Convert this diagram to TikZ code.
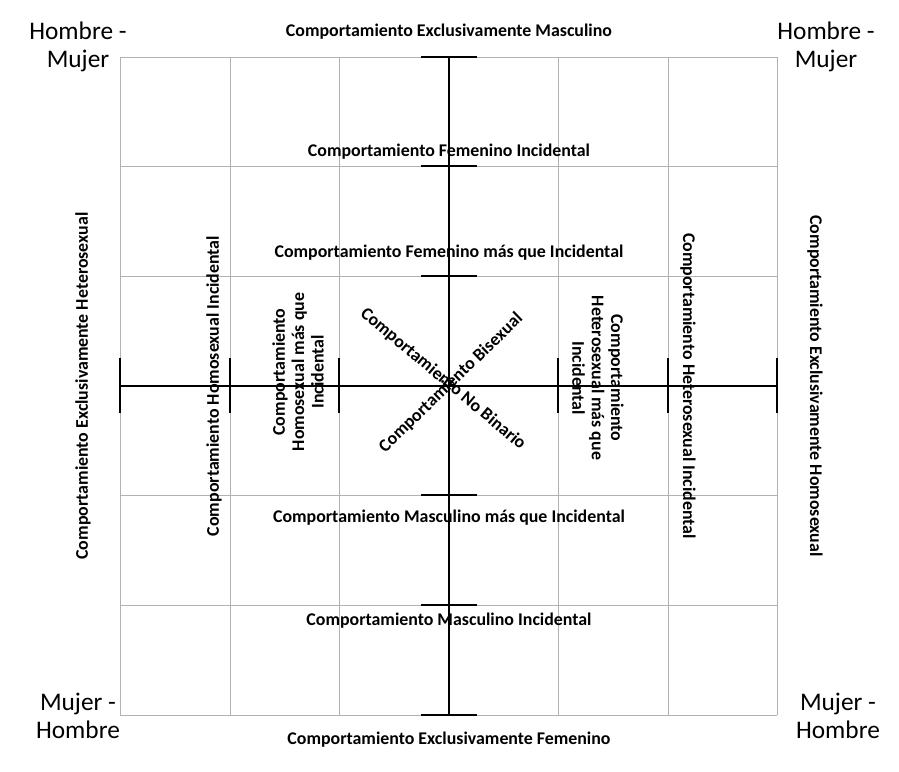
\documentclass[tikz,border=0pt]{standalone}
\usepackage{fontspec}
\setmainfont{Carlito}
\begin{document}
\begin{tikzpicture}[x=0.75pt,y=-0.75pt,
  lab/.style={font=\fontsize{13.4}{14.5}\selectfont\bfseries,inner sep=0pt,align=center},
  corner/.style={font=\fontsize{19}{21.5}\selectfont,inner sep=0pt,align=center},
  grid/.style={draw=gray!60,line width=0.4pt},
  axis/.style={draw=black,line width=1.4pt}]
\useasboundingbox (0,0) rectangle (899,771);
\foreach \x in {120,230,339,449,558,668,777} \draw[grid] (\x,57) -- (\x,715);
\foreach \y in {57,166,276,386,495,605,715} \draw[grid] (120,\y) -- (777,\y);
\coordinate (L) at (120,386); \coordinate (R) at (777,386);
\coordinate (T) at (449,57); \coordinate (B) at (449,715);
\draw[axis] (L) -- (R);
\draw[axis] (T) -- (B);
\foreach \x in {120,230,339,558,668,777} \draw[axis] (\x,358) -- (\x,413);
\foreach \y in {57,166,276,495,605,715} \draw[axis] (421,\y) -- (477,\y);
\node[corner] (c1) at (78,47) {Hombre -\\Mujer};
\node[corner] (c2) at (826,47) {Hombre -\\Mujer};
\node[corner] (c3) at (78,716) {Mujer -\\Hombre};
\node[corner] (c4) at (838,716) {Mujer -\\Hombre};
\node[lab] (t1) at (449,32) {Comportamiento Exclusivamente Masculino};
\node[lab] (t2) at (449,152) {Comportamiento Femenino Incidental};
\node[lab] (t3) at (449,253) {Comportamiento Femenino más que Incidental};
\node[lab] (t4) at (449,518) {Comportamiento Masculino más que Incidental};
\node[lab] (t5) at (449,621) {Comportamiento Masculino Incidental};
\node[lab] (t6) at (449,740) {Comportamiento Exclusivamente Femenino};
\node[lab,rotate=90] (v1) at (83,386) {Comportamiento Exclusivamente Heterosexual};
\node[lab,rotate=-90] (v2) at (815,386) {Comportamiento Exclusivamente Homosexual};
\node[lab,rotate=90] (v3) at (214,386) {Comportamiento Homosexual Incidental};
\node[lab,rotate=-90] (v4) at (688,386) {Comportamiento Heterosexual Incidental};
\node[lab,rotate=90] (v5) at (298,372) {Comportamiento\\Homosexual más que\\Incidental};
\node[lab,rotate=-90] (v6) at (598,378) {Comportamiento\\Heterosexual más que\\Incidental};
\node[lab,rotate=44] (d1) at (451,383) {Comportamiento Bisexual};
\node[lab,rotate=-40] (d2) at (443,379) {Comportamiento No Binario};
\end{tikzpicture}
\end{document}
